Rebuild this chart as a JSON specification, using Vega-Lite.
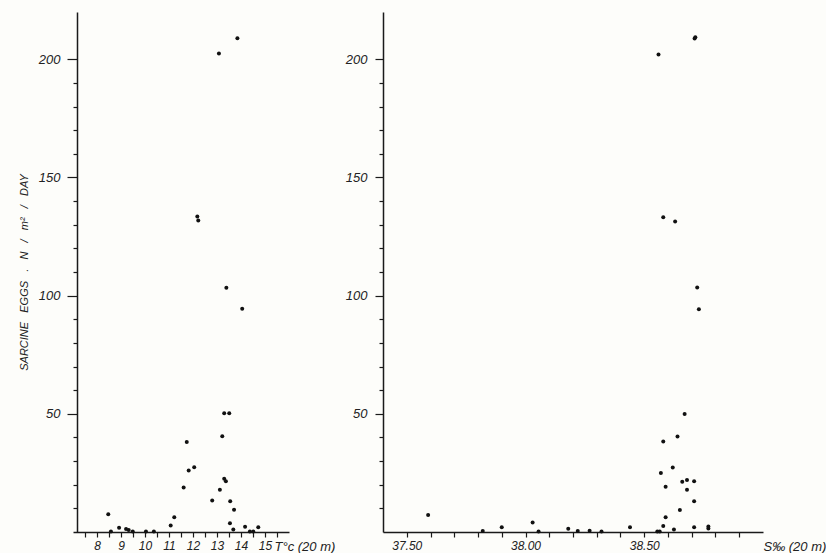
{
  "$schema": "https://vega.github.io/schema/vega-lite/v6.json",
  "background": "#fdfdfa",
  "padding": {"left": 18, "top": 12, "right": 0, "bottom": 0},
  "spacing": 10,
  "config": {
    "view": {"stroke": null},
    "axis": {
      "grid": false,
      "domainColor": "#1a1a1a",
      "domainWidth": 1.5,
      "tickColor": "#1a1a1a",
      "tickWidth": 1.2,
      "labelFont": "Liberation Sans",
      "labelFontStyle": "italic",
      "labelFontWeight": "normal",
      "labelColor": "#222222",
      "titleFont": "Liberation Sans",
      "titleFontStyle": "italic",
      "titleFontWeight": "normal",
      "titleColor": "#222222"
    }
  },
  "datasets": {
    "temp": [
      {"t": 13.85, "eggs": 208.9},
      {"t": 13.08, "eggs": 202.4},
      {"t": 12.18, "eggs": 133.5},
      {"t": 12.22, "eggs": 131.8},
      {"t": 13.39, "eggs": 103.3},
      {"t": 14.05, "eggs": 94.5},
      {"t": 13.3, "eggs": 50.2},
      {"t": 13.51, "eggs": 50.2},
      {"t": 13.22, "eggs": 40.5},
      {"t": 11.74, "eggs": 38.1},
      {"t": 11.82, "eggs": 26.0},
      {"t": 12.05, "eggs": 27.4},
      {"t": 11.61, "eggs": 18.8},
      {"t": 13.3, "eggs": 22.5},
      {"t": 13.37, "eggs": 21.5},
      {"t": 13.12, "eggs": 17.9},
      {"t": 12.8, "eggs": 13.3},
      {"t": 13.55, "eggs": 13.0},
      {"t": 13.71, "eggs": 9.4},
      {"t": 13.54, "eggs": 3.7},
      {"t": 13.68, "eggs": 1.1},
      {"t": 14.17, "eggs": 2.2},
      {"t": 14.37, "eggs": 0.2},
      {"t": 14.51, "eggs": 0.2},
      {"t": 14.72, "eggs": 2.0},
      {"t": 8.47, "eggs": 7.5},
      {"t": 8.58, "eggs": 0.2},
      {"t": 8.92, "eggs": 1.8},
      {"t": 9.21, "eggs": 1.3},
      {"t": 9.32, "eggs": 0.8},
      {"t": 9.49, "eggs": 0.2},
      {"t": 10.04, "eggs": 0.2},
      {"t": 10.37, "eggs": 0.2},
      {"t": 11.07, "eggs": 2.7},
      {"t": 11.22, "eggs": 6.2}
    ],
    "sal": [
      {"s": 38.712, "eggs": 208.8},
      {"s": 38.715, "eggs": 209.3},
      {"s": 38.56, "eggs": 202.0},
      {"s": 38.58, "eggs": 133.2},
      {"s": 38.63, "eggs": 131.4},
      {"s": 38.723, "eggs": 103.4},
      {"s": 38.73, "eggs": 94.2},
      {"s": 38.67, "eggs": 49.9},
      {"s": 38.64, "eggs": 40.4},
      {"s": 38.58, "eggs": 38.3},
      {"s": 38.62, "eggs": 27.3},
      {"s": 38.57, "eggs": 25.0},
      {"s": 38.66, "eggs": 21.3},
      {"s": 38.68, "eggs": 22.0},
      {"s": 38.71, "eggs": 21.5},
      {"s": 38.59, "eggs": 19.1},
      {"s": 38.68, "eggs": 17.9},
      {"s": 38.71, "eggs": 13.0},
      {"s": 38.65, "eggs": 9.3},
      {"s": 38.59, "eggs": 6.2},
      {"s": 38.58, "eggs": 2.5},
      {"s": 38.625, "eggs": 1.1},
      {"s": 38.71, "eggs": 2.0},
      {"s": 38.77, "eggs": 1.5},
      {"s": 38.77, "eggs": 2.3},
      {"s": 38.44, "eggs": 2.0},
      {"s": 38.555, "eggs": 0.2},
      {"s": 38.565, "eggs": 0.2},
      {"s": 37.59, "eggs": 7.2},
      {"s": 37.82, "eggs": 0.4},
      {"s": 37.9, "eggs": 2.0},
      {"s": 38.03, "eggs": 4.0},
      {"s": 38.055, "eggs": 0.2},
      {"s": 38.18, "eggs": 1.4},
      {"s": 38.22, "eggs": 0.4},
      {"s": 38.27, "eggs": 0.5},
      {"s": 38.32, "eggs": 0.2}
    ]
  },
  "hconcat": [
    {
      "width": 216,
      "height": 520,
      "data": {"name": "temp"},
      "mark": {"type": "circle", "size": 16, "color": "#111111", "opacity": 1},
      "encoding": {
        "x": {
          "field": "t",
          "type": "quantitative",
          "scale": {"domain": [7, 16], "nice": false, "zero": false},
          "axis": {
            "values": [7.5, 8, 8.5, 9, 9.5, 10, 10.5, 11, 11.5, 12, 12.5, 13, 13.5, 14, 14.5, 15, 15.5],
            "labelExpr": "datum.value % 1 === 0 ? datum.value : ''",
            "labelFontSize": 12,
            "labelPadding": 3,
            "tickSize": 5,
            "title": "T°c (20 m)",
            "titleFontSize": 13,
            "titleAnchor": "start",
            "titleAlign": "left",
            "titleBaseline": "middle",
            "titleX": 201,
            "titleY": 14
          }
        },
        "y": {
          "field": "eggs",
          "type": "quantitative",
          "scale": {"domain": [0, 220], "nice": false},
          "axis": {
            "offset": -4,
            "values": [10, 20, 30, 40, 50, 60, 70, 80, 90, 100, 110, 120, 130, 140, 150, 160, 170, 180, 190, 200],
            "labelExpr": "datum.value % 50 === 0 ? datum.value : ''",
            "labelFontSize": 13,
            "labelPadding": 7,
            "tickSize": {"condition": {"test": "datum.value % 50 === 0", "value": 10}, "value": 4},
            "title": "SARCINE\u00a0\u00a0\u00a0EGGS\u00a0\u00a0\u00a0.\u00a0\u00a0\u00a0N\u00a0\u00a0\u00a0/\u00a0\u00a0\u00a0m²\u00a0\u00a0\u00a0/\u00a0\u00a0\u00a0DAY",
            "titleFontSize": 11,
            "titlePadding": 9
          }
        }
      }
    },
    {
      "width": 380,
      "height": 520,
      "data": {"name": "sal"},
      "mark": {"type": "circle", "size": 16, "color": "#111111", "opacity": 1},
      "encoding": {
        "x": {
          "field": "s",
          "type": "quantitative",
          "scale": {"domain": [37.4, 39.0], "nice": false, "zero": false},
          "axis": {
            "values": [37.5, 37.6, 37.7, 37.8, 37.9, 38.0, 38.1, 38.2, 38.3, 38.4, 38.5, 38.6, 38.7, 38.8, 38.9],
            "labelExpr": "round(datum.value * 100) % 50 === 0 ? format(datum.value, '.2f') : ''",
            "labelFontSize": 12,
            "labelPadding": 3,
            "tickSize": 5,
            "title": "S‰ (20 m)",
            "titleFontSize": 13,
            "titleAnchor": "start",
            "titleAlign": "left",
            "titleBaseline": "middle",
            "titleX": 380,
            "titleY": 14
          }
        },
        "y": {
          "field": "eggs",
          "type": "quantitative",
          "scale": {"domain": [0, 220], "nice": false},
          "axis": {
            "values": [10, 20, 30, 40, 50, 60, 70, 80, 90, 100, 110, 120, 130, 140, 150, 160, 170, 180, 190, 200],
            "labelExpr": "datum.value % 50 === 0 ? datum.value : ''",
            "labelFontSize": 13,
            "labelPadding": 8,
            "tickSize": {"condition": {"test": "datum.value % 50 === 0", "value": 8}, "value": 4},
            "title": null
          }
        }
      }
    }
  ]
}
